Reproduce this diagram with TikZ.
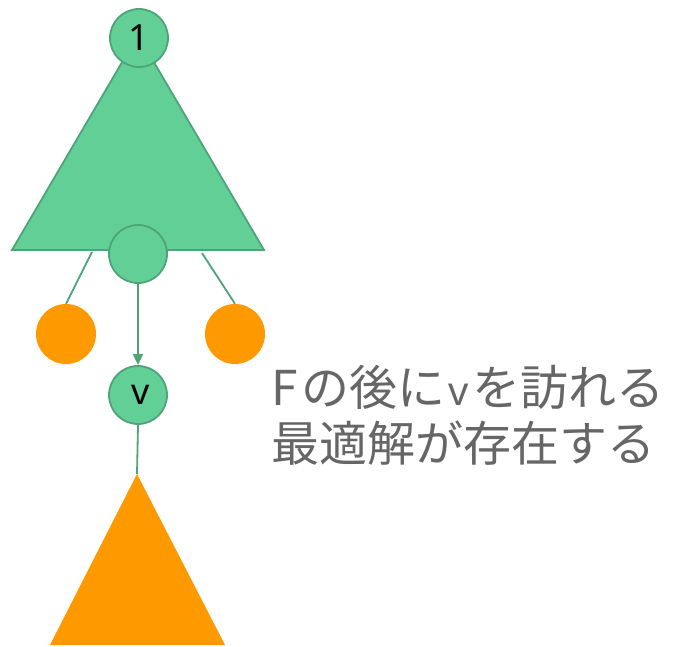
\documentclass[tikz,border=0pt]{standalone}
\usepackage{fontspec}
\setmainfont{Noto Sans CJK JP}
\newfontfamily\labelfont{Noto Sans}
\usetikzlibrary{arrows.meta}
\definecolor{gfill}{RGB}{98,208,150}
\definecolor{gline}{RGB}{78,164,118}
\definecolor{ofill}{RGB}{255,153,0}
\definecolor{tgray}{RGB}{102,102,102}
\tikzset{
  gnode/.style={circle,fill=gfill,draw=gline,line width=1.8pt,minimum size=58pt,inner sep=0pt,
    font=\labelfont\fontsize{36}{36}\selectfont,text=black},
  onode/.style={circle,fill=ofill,minimum size=60pt,inner sep=0pt},
  conn/.style={draw=gline,line width=1.8pt},
}
\begin{document}
\begin{tikzpicture}[x=1pt,y=-1pt]
\useasboundingbox (0,0) rectangle (681,647);
% green subtree triangle
\draw[fill=gfill,draw=gline,line width=1.8pt] (138,35) -- (12,250) -- (264,250) -- cycle;
% orange subtree triangle
\fill[ofill] (137,474) -- (50,645) -- (225,645) -- cycle;
\coordinate (tapex) at (137,474);
\coordinate (lb) at (92,252);
\coordinate (rb) at (202,253);
% orange children
\node[onode] (o1) at (66,334) {};
\node[onode] (o2) at (235,334) {};
\path[conn] (lb) -- (o1.north);
\path[conn] (rb) -- (o2.north);
% nodes
\node[gnode] (root) at (139,38) {1};
\node[gnode] (mid) at (138,254) {};
\node[gnode] (v) at (138,395) {\hspace{5pt}v};
\path[conn,-{Triangle[length=11pt,width=10pt]}] (mid.south) -- (v.north);
\path[conn] (v.south) -- (tapex);
% text
\node[anchor=west,align=left,text=tgray,inner sep=0pt,font=\fontsize{48}{56}\selectfont] (txt) at (271,415)
  {F\hspace{4pt}の後に\hspace{3pt}{\labelfont\fontsize{40}{40}\selectfont v}\hspace{3pt}を訪れる\\最適解が存在する};
\end{tikzpicture}
\end{document}
